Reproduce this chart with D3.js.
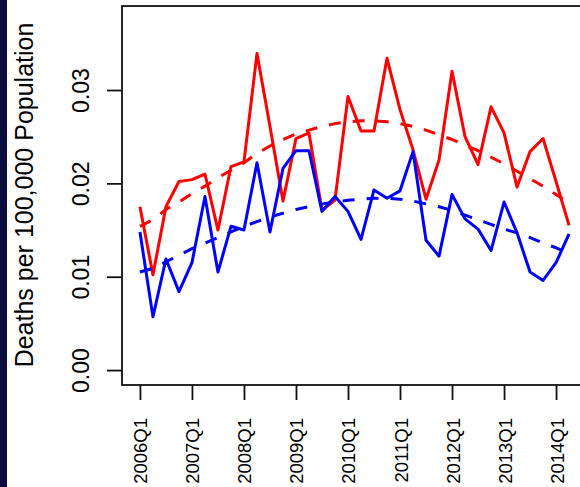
<!DOCTYPE html>
<html>
<head>
<meta charset="utf-8">
<script src="https://cdn.jsdelivr.net/npm/d3@7"></script>
<style>
  html, body { margin: 0; padding: 0; background: #ffffff; }
  svg { display: block; }
  text { font-family: "Liberation Sans", Arial, sans-serif; fill: #000; }
</style>
</head>
<body>
<svg id="chart" width="580" height="487"></svg>
<script>
// ---- data (quarterly, 2006Q1 .. 2014Q2) ----
const tickQuarters = [0, 4, 8, 12, 16, 20, 24, 28, 32];
const tickLabels = ["2006Q1", "2007Q1", "2008Q1", "2009Q1", "2010Q1", "2011Q1", "2012Q1", "2013Q1", "2014Q1"];
const yTicks = [0.00, 0.01, 0.02, 0.03];

const redSolid = [0.0175, 0.0102, 0.0175, 0.0202, 0.0204, 0.0210, 0.0150, 0.0218, 0.0223, 0.0339,
                  0.0261, 0.0181, 0.0248, 0.0254, 0.0171, 0.0182, 0.0293, 0.0256, 0.0256, 0.0334,
                  0.0279, 0.0236, 0.0183, 0.0225, 0.0320, 0.0250, 0.0220, 0.0282, 0.0254, 0.0196,
                  0.0234, 0.0248, 0.0202, 0.0155];
const blueSolid = [0.0148, 0.0057, 0.0119, 0.0084, 0.0115, 0.0186, 0.0105, 0.0154, 0.0150, 0.0222,
                   0.0148, 0.0216, 0.0235, 0.0235, 0.0170, 0.0186, 0.0170, 0.0140, 0.0193, 0.0184,
                   0.0192, 0.0234, 0.0139, 0.0122, 0.0188, 0.0162, 0.0151, 0.0128, 0.0180, 0.0147,
                   0.0105, 0.0096, 0.0115, 0.0146];
const redTrend = [0.0154, 0.0161, 0.0172, 0.0180, 0.0189, 0.0197, 0.0206, 0.0214, 0.0222, 0.0232,
                  0.0240, 0.0247, 0.0253, 0.0257, 0.0261, 0.0264, 0.0266, 0.0267, 0.0267, 0.0266,
                  0.0264, 0.0261, 0.0257, 0.0252, 0.0247, 0.0241, 0.0235, 0.0228, 0.0221, 0.0213,
                  0.0205, 0.0197, 0.0188, 0.0179];
const blueTrend = [0.0105, 0.0109, 0.0116, 0.0123, 0.0130, 0.0136, 0.0142, 0.0148, 0.0154, 0.0159,
                   0.0164, 0.0168, 0.0172, 0.0175, 0.0178, 0.0180, 0.0182, 0.0183, 0.0184, 0.0184,
                   0.0183, 0.0181, 0.0178, 0.0175, 0.0171, 0.0166, 0.0161, 0.0156, 0.0151, 0.0147,
                   0.0142, 0.0136, 0.0131, 0.0125];

const yLabel = "Deaths per 100,000 Population";

// ---- layout ----
const svg = d3.select("#chart");
const box = { left: 122, top: 6, right: 587, bottom: 385 };

const x = d3.scaleLinear().domain([-1.38, 34.38]).range([box.left, box.right]);
const y = d3.scaleLinear().domain([-0.0016, 0.039]).range([box.bottom, box.top]);

// dark strip at the left edge
svg.append("rect").attr("x", 0).attr("y", 0).attr("width", 7).attr("height", 487)
  .attr("fill", "#0c0c3c");

// plot box
svg.append("rect")
  .attr("x", box.left).attr("y", box.top)
  .attr("width", box.right - box.left).attr("height", box.bottom - box.top)
  .attr("fill", "none").attr("stroke", "#111").attr("stroke-width", 1.8);

// ---- lines ----
const line = d3.line().x((d, i) => x(i)).y(d => y(d));
const series = [
  { data: redSolid, color: "#ff0000", dash: null },
  { data: blueSolid, color: "#0000ff", dash: null },
  { data: redTrend, color: "#ff0000", dash: "12,12" },
  { data: blueTrend, color: "#0000ff", dash: "12,12" }
];
series.forEach(s => {
  svg.append("path")
    .attr("d", line(s.data))
    .attr("fill", "none")
    .attr("stroke", s.color)
    .attr("stroke-width", 3)
    .attr("stroke-linejoin", "round")
    .attr("stroke-linecap", "butt")
    .attr("stroke-dasharray", s.dash);
});

// ---- y axis ----
const yAxis = svg.append("g").attr("transform", `translate(${box.left},0)`)
  .call(d3.axisLeft(y).tickValues(yTicks).tickSize(15).tickSizeOuter(0).tickFormat(d3.format(".2f")));
yAxis.select(".domain").remove();
yAxis.selectAll(".tick line").attr("stroke", "#111").attr("stroke-width", 1.8);
yAxis.selectAll(".tick text")
  .attr("transform", "rotate(-90)")
  .attr("x", 0).attr("y", -33.5).attr("dy", 0)
  .attr("text-anchor", "middle")
  .style("font-size", "23px")
  .style("font-family", "'Liberation Sans', Arial, sans-serif")
  .attr("fill", "#000");

// ---- x axis ----
const xAxis = svg.append("g").attr("transform", `translate(0,${box.bottom})`)
  .call(d3.axisBottom(x).tickValues(tickQuarters).tickSize(15).tickSizeOuter(0)
    .tickFormat((d, i) => tickLabels[i]));
xAxis.select(".domain").remove();
xAxis.selectAll(".tick line").attr("stroke", "#111").attr("stroke-width", 1.8);
xAxis.selectAll(".tick text")
  .attr("transform", "rotate(-90)")
  .attr("x", -33).attr("y", 7).attr("dy", 0)
  .attr("text-anchor", "end")
  .style("font-size", "18.5px")
  .style("font-family", "'Liberation Sans', Arial, sans-serif")
  .attr("fill", "#000");

// ---- y label ----
svg.append("text")
  .attr("transform", "translate(33,195) rotate(-90)")
  .attr("text-anchor", "middle")
  .style("font-size", "25px")
  .text(yLabel);
</script>
</body>
</html>
